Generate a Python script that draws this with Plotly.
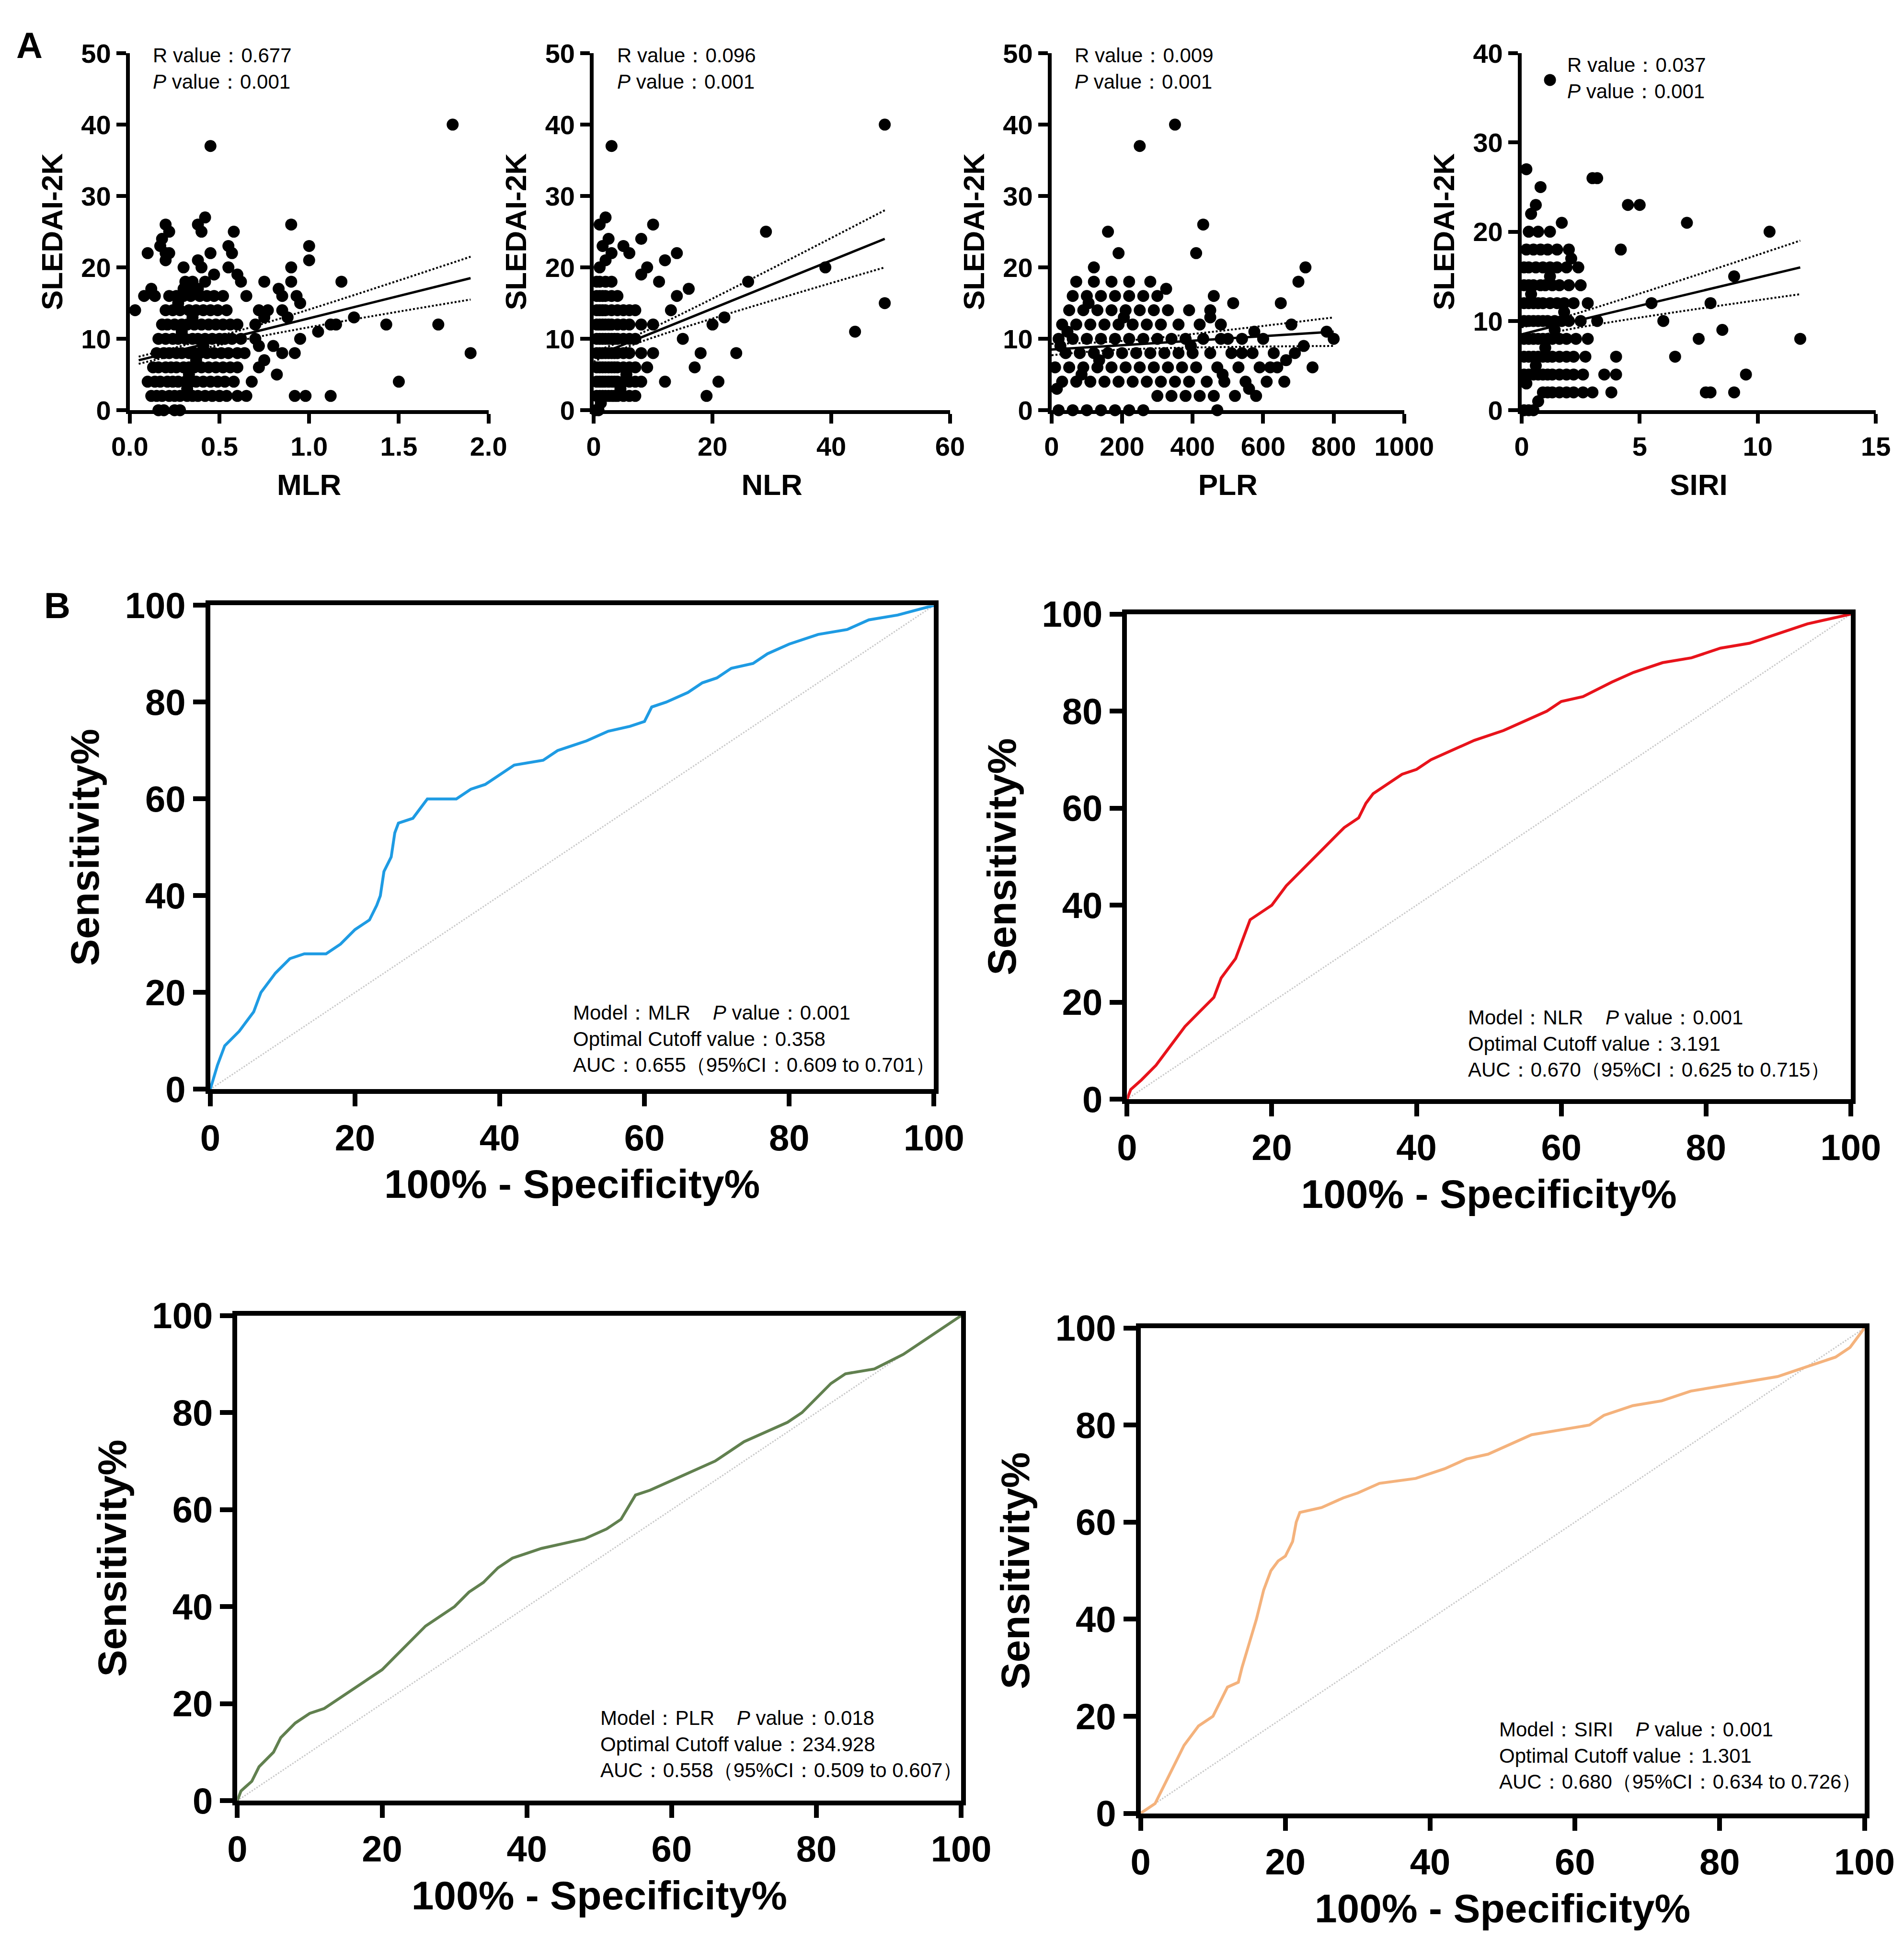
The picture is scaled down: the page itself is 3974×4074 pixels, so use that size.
import plotly.graph_objects as go

FONT = "Liberation Sans"
NARROW = "Liberation Sans Narrow, Liberation Sans"

# ---------------- scatter data (panel A) ----------------
mlr_x = [1.8, 0.45, 0.9, 1.0, 1.0, 1.18, 0.9, 0.9, 1.25, 1.43, 1.72, 1.9, 1.5, 1.12, 0.98, 0.92,
         0.95, 0.92, 1.05, 1.12, 1.15, 0.82, 0.85, 0.8, 0.75, 0.72, 0.75, 0.77, 0.83, 0.85, 0.85,
         0.88, 0.93, 0.95, 0.58, 0.42, 0.38, 0.40, 0.45, 0.2, 0.22, 0.18, 0.17, 0.2, 0.22, 0.2,
         0.1, 0.03, 0.08, 0.12, 0.14, 0.3, 0.38, 0.4, 0.55, 0.57, 0.55, 0.6, 0.47, 0.62, 0.65,
         0.7, 0.7, 0.72, 0.75, 0.72, 0.68, 0.65, 0.6, 0.5,
         0.12, 0.15, 0.18, 0.22, 0.25, 0.28, 0.32, 0.35, 0.38, 0.42, 0.46, 0.5, 0.54,
         0.1, 0.14, 0.17, 0.21, 0.24, 0.27, 0.31, 0.34, 0.37, 0.41, 0.45, 0.49, 0.53, 0.58,
         0.13, 0.16, 0.2, 0.23, 0.26, 0.3, 0.33, 0.36, 0.4, 0.44, 0.48, 0.52, 0.56, 0.6,
         0.15, 0.19, 0.22, 0.26, 0.29, 0.33, 0.36, 0.39, 0.43, 0.47, 0.51, 0.55, 0.6, 0.64,
         0.16, 0.2, 0.24, 0.27, 0.31, 0.35, 0.38, 0.42, 0.46, 0.5, 0.53, 0.57, 0.62,
         0.18, 0.21, 0.25, 0.29, 0.32, 0.36, 0.4, 0.44, 0.48, 0.52, 0.56, 0.6,
         0.2, 0.24, 0.28, 0.33, 0.37, 0.41, 0.45, 0.49, 0.54,
         0.22, 0.26, 0.3, 0.34, 0.39, 0.43, 0.47, 0.52, 0.16, 0.19, 0.25, 0.28, 0.31, 0.35,
         0.3, 0.34, 0.38, 0.42, 0.33, 0.37, 0.41, 0.29, 0.35, 0.27, 0.32]
mlr_y = [40, 37, 26, 23, 21, 18, 20, 18, 13, 12, 12, 8, 4, 2, 2, 2,
         10, 8, 11, 12, 12, 5, 8, 9, 18, 14, 13, 14, 17, 16, 14,
         13, 16, 15, 25, 27, 26, 25, 22, 26, 25, 24, 23, 22, 22, 21,
         22, 14, 16, 17, 16, 20, 21, 20, 23, 22, 20, 19, 19, 18, 16,
         12, 10, 9, 7, 6, 4, 2, 2, 2,
         2, 2, 2, 2, 2, 2, 2, 2, 2, 2, 2, 2, 2,
         4, 4, 4, 4, 4, 4, 4, 4, 4, 4, 4, 4, 4, 4,
         6, 6, 6, 6, 6, 6, 6, 6, 6, 6, 6, 6, 6, 6,
         8, 8, 8, 8, 8, 8, 8, 8, 8, 8, 8, 8, 8, 8,
         10, 10, 10, 10, 10, 10, 10, 10, 10, 10, 10, 10, 10,
         12, 12, 12, 12, 12, 12, 12, 12, 12, 12, 12, 12,
         14, 14, 14, 14, 14, 14, 14, 14, 14,
         16, 16, 16, 16, 16, 16, 16, 16, 0, 0, 0, 0, 18, 18,
         17, 17, 17, 18, 5, 7, 9, 11, 13, 15, 3]

nlr_x = [49, 3, 49, 44, 39, 29, 26, 22, 20, 19, 24, 10, 14, 16, 12, 8, 6, 5, 2, 1,
         18, 15, 13, 11, 9, 17, 21, 12, 10, 14, 7, 8,
         0.5, 1, 1.5, 2, 2.5, 3, 3.5, 4, 5, 6, 7,
         0.5, 1, 1.5, 2, 2.5, 3, 3.5, 4, 5, 6, 7, 8,
         0.5, 1, 1.5, 2, 2.5, 3, 3.5, 4, 5, 6, 7, 9,
         0.5, 1, 1.5, 2, 2.5, 3, 3.5, 4, 5, 6, 8, 10,
         0.5, 1, 1.5, 2, 2.5, 3, 3.5, 4, 5, 6, 7,
         0.5, 1, 1.5, 2, 2.5, 3, 4, 5, 6, 8,
         0.5, 1, 1.5, 2, 3, 4, 5, 6,
         0.5, 1, 1.5, 2, 3, 4, 0.5, 1, 2, 3,
         1, 2, 3, 1.5, 2.5, 0.3, 0.8, 1.2, 4.5, 5.5]
nlr_y = [40, 37, 15, 11, 20, 25, 18, 13, 12, 2, 8, 26, 22, 17, 21, 24, 22, 23, 27, 26,
         8, 10, 14, 18, 20, 6, 4, 4, 12, 16, 14, 19,
         2, 2, 2, 2, 2, 2, 2, 2, 2, 2, 2,
         4, 4, 4, 4, 4, 4, 4, 4, 4, 4, 4, 4,
         6, 6, 6, 6, 6, 6, 6, 6, 6, 6, 6, 6,
         8, 8, 8, 8, 8, 8, 8, 8, 8, 8, 8, 8,
         10, 10, 10, 10, 10, 10, 10, 10, 10, 10, 10,
         12, 12, 12, 12, 12, 12, 12, 12, 12, 12,
         14, 14, 14, 14, 14, 14, 14, 14,
         16, 16, 16, 16, 16, 16, 18, 18, 18, 18,
         20, 21, 22, 23, 24, 0, 0, 1, 3, 5]

plr_x = [350, 250, 800, 780, 720, 700, 680, 650, 620, 600, 560, 540, 500, 470, 450, 430, 410,
         20, 60, 100, 140, 180, 220, 260, 300, 340, 380, 420, 460, 520, 580,
         30, 70, 110, 150, 190, 230, 270, 310, 350, 390, 440, 490, 550, 610, 660,
         10, 50, 90, 130, 170, 210, 250, 290, 330, 370, 410, 470, 530, 590, 640, 740,
         40, 80, 120, 160, 200, 240, 280, 320, 360, 400, 450, 510, 570, 630, 690,
         20, 60, 100, 140, 180, 220, 260, 300, 340, 380, 430, 480, 540,
         30, 70, 110, 150, 190, 230, 270, 310, 360, 420, 480,
         50, 90, 130, 170, 210, 250, 290, 330, 390, 450,
         60, 100, 140, 180, 220, 260, 300, 70, 120, 170, 220, 280, 120, 190, 160, 460,
         15, 25, 45, 85, 105, 135, 205, 325, 395, 485, 515, 575, 665, 715]
plr_y = [40, 37, 10, 11, 20, 18, 12, 15, 6, 10, 3, 8, 10, 0, 13, 26, 22,
         0, 0, 0, 0, 0, 0, 0, 2, 2, 2, 2, 2, 2, 2,
         4, 4, 4, 4, 4, 4, 4, 4, 4, 4, 4, 4, 4, 4, 4,
         6, 6, 6, 6, 6, 6, 6, 6, 6, 6, 6, 6, 6, 6, 6, 6,
         8, 8, 8, 8, 8, 8, 8, 8, 8, 8, 8, 8, 8, 8, 8,
         10, 10, 10, 10, 10, 10, 10, 10, 10, 10, 10, 10, 10,
         12, 12, 12, 12, 12, 12, 12, 12, 12, 12, 12,
         14, 14, 14, 14, 14, 14, 14, 14, 14, 14,
         16, 16, 16, 16, 16, 16, 16, 18, 18, 18, 18, 18, 20, 22, 25, 16,
         3, 9, 11, 5, 15, 7, 13, 17, 9, 5, 15, 11, 7, 9]

siri_x = [1.2, 11.8, 10.5, 9, 8, 9.5, 9, 8, 7.8, 7, 5, 4.5, 3, 3.2, 6.5, 6, 5.5, 7.5, 8.5, 4, 3.8, 4.2,
          0.1, 0.3, 0.5, 0.7, 0.9, 1.1, 1.3, 1.6, 1.9, 2.2, 2.6, 3.0,
          0.1, 0.3, 0.5, 0.7, 0.9, 1.1, 1.3, 1.6, 1.9, 2.2, 2.6, 3.5,
          0.1, 0.3, 0.5, 0.7, 0.9, 1.1, 1.3, 1.6, 1.9, 2.2, 2.7, 4.0,
          0.1, 0.3, 0.5, 0.7, 0.9, 1.1, 1.3, 1.6, 1.9, 2.3, 2.8,
          0.1, 0.3, 0.5, 0.7, 0.9, 1.1, 1.4, 1.7, 2.0, 2.5, 3.2,
          0.1, 0.3, 0.5, 0.7, 0.9, 1.2, 1.5, 1.8, 2.2, 2.8,
          0.1, 0.3, 0.5, 0.8, 1.0, 1.3, 1.6, 2.0, 2.5,
          0.1, 0.3, 0.6, 0.9, 1.2, 1.5, 1.9, 2.4,
          0.2, 0.5, 0.8, 1.1, 1.5, 2.0, 0.3, 0.7, 1.2, 0.4, 0.8, 0.2,
          0.2, 0.6, 1.0, 1.4, 1.8, 0.4, 1.2, 2.1, 0.6, 1.7]
siri_y = [37, 8, 20, 15, 12, 4, 2, 2, 2, 21, 23, 23, 26, 26, 6, 10, 12, 8, 9, 4, 2, 18,
          0, 0, 0, 1, 2, 2, 2, 2, 2, 2, 2, 2,
          4, 4, 4, 4, 4, 4, 4, 4, 4, 4, 4, 4,
          6, 6, 6, 6, 6, 6, 6, 6, 6, 6, 6, 6,
          8, 8, 8, 8, 8, 8, 8, 8, 8, 8, 8,
          10, 10, 10, 10, 10, 10, 10, 10, 10, 10, 10,
          12, 12, 12, 12, 12, 12, 12, 12, 12, 12,
          14, 14, 14, 14, 14, 14, 14, 14, 14,
          16, 16, 16, 16, 16, 16, 16, 16,
          18, 18, 18, 18, 18, 18, 20, 20, 20, 22, 25, 27,
          3, 5, 7, 9, 11, 13, 15, 17, 23, 21]

# regression line and 95% band: x points, fit, upper, lower
mlr_fit_x = [0.05, 0.7, 1.9]
mlr_fit = [7.0, 11.0, 18.5]
mlr_up = [7.5, 11.8, 21.5]
mlr_lo = [6.5, 10.2, 15.5]
nlr_fit_x = [0.0, 8, 49]
nlr_fit = [7.5, 10.2, 24.0]
nlr_up = [8.2, 10.8, 28.0]
nlr_lo = [6.8, 9.6, 20.0]
plr_fit_x = [0, 200, 800]
plr_fit = [8.5, 9.1, 11.0]
plr_up = [9.3, 9.7, 13.0]
plr_lo = [7.7, 8.5, 9.0]
siri_fit_x = [0.0, 1.5, 11.8]
siri_fit = [8.5, 9.5, 16.0]
siri_up = [9.3, 10.2, 19.0]
siri_lo = [7.7, 8.8, 13.0]

scatter_names = ["MLR", "NLR", "PLR", "SIRI"]
scatter_r = ["0.677", "0.096", "0.009", "0.037"]
scatter_p = ["0.001", "0.001", "0.001", "0.001"]
scatter_xmax = [2.0, 60, 1000, 15]
scatter_dtick = [0.5, 20, 200, 5]
scatter_ymax = [50, 50, 50, 40]

# ---------------- ROC data (panel B) ----------------
mlr_fpr = [0, 1, 2, 4, 6, 7, 9, 11, 13, 16, 18, 20, 22, 23, 23.5, 24, 25, 25.5, 26, 28, 29, 30, 34, 36,
           38, 40, 42, 46, 48, 50, 52, 55, 58, 60, 61, 63, 66, 68, 70, 72, 75, 77, 80, 84, 88, 91, 95, 100]
mlr_tpr = [0, 5, 9, 12, 16, 20, 24, 27, 28, 28, 30, 33, 35, 38, 40, 45, 48, 53, 55, 56, 58, 60, 60, 62,
           63, 65, 67, 68, 70, 71, 72, 74, 75, 76, 79, 80, 82, 84, 85, 87, 88, 90, 92, 94, 95, 97, 98, 100]
nlr_fpr = [0, 0.5, 2, 4, 6, 8, 10, 12, 13, 15, 16, 17, 19, 20, 22, 24, 26, 28, 30, 32, 33, 34, 36, 38,
           40, 42, 45, 48, 52, 55, 58, 60, 63, 67, 70, 74, 78, 82, 86, 90, 94, 100]
nlr_tpr = [0, 2, 4, 7, 11, 15, 18, 21, 25, 29, 33, 37, 39, 40, 44, 47, 50, 53, 56, 58, 61, 63, 65, 67,
           68, 70, 72, 74, 76, 78, 80, 82, 83, 86, 88, 90, 91, 93, 94, 96, 98, 100]
plr_fpr = [0, 0.5, 2, 3, 5, 6, 8, 10, 12, 14, 16, 18, 20, 22, 24, 26, 28, 30, 32, 34, 36, 38, 40, 42,
           45, 48, 51, 53, 55, 57, 60, 63, 66, 68, 70, 73, 76, 78, 80, 82, 84, 88, 92, 95, 97, 100]
plr_tpr = [0, 2, 4, 7, 10, 13, 16, 18, 19, 21, 23, 25, 27, 30, 33, 36, 38, 40, 43, 45, 48, 50, 51, 52,
           53, 54, 56, 58, 63, 64, 66, 68, 70, 72, 74, 76, 78, 80, 83, 86, 88, 89, 92, 95, 97, 100]
siri_fpr = [0, 1, 2, 3, 4, 5, 6, 7, 8, 10, 11, 12, 13.5, 14, 15, 16, 17, 18, 19, 20, 21, 21.5, 22, 25,
            28, 30, 33, 38, 42, 45, 48, 51, 54, 58, 62, 64, 68, 72, 76, 80, 84, 88, 92, 96, 98, 100]
siri_tpr = [0, 1, 2, 5, 8, 11, 14, 16, 18, 20, 23, 26, 27, 30, 35, 40, 46, 50, 52, 53, 56, 60, 62, 63,
            65, 66, 68, 69, 71, 73, 74, 76, 78, 79, 80, 82, 84, 85, 87, 88, 89, 90, 92, 94, 96, 100]

roc_names = ["MLR", "NLR", "PLR", "SIRI"]
roc_p = ["0.001", "0.001", "0.018", "0.001"]
roc_cutoff = ["0.358", "3.191", "234.928", "1.301"]
roc_auc = ["0.655", "0.670", "0.558", "0.680"]
roc_ci = ["0.609 to 0.701", "0.625 to 0.715", "0.509 to 0.607", "0.634 to 0.726"]
roc_colors = ["#1E9BE3", "#E8131B", "#61804F", "#F4B27C"]

# ---------------- layout positions ----------------
sc_x = [(0.0578, 0.2512), (0.3079, 0.5000), (0.5547, 0.7448), (0.8081, 0.999)]
sc_y = (0.7979, 0.9847)
sc_txt = [(0.012, 0.99), (0.012, 0.99), (0.012, 0.99), (0.024, 0.985)]
roc_dom = [((0.1012, 0.4913), (0.4426, 0.6958)),
           ((0.5954, 0.9855), (0.4374, 0.6912)),
           ((0.1158, 0.5060), (0.0704, 0.3242)),
           ((0.6027, 0.9929), (0.0638, 0.3177))]
roc_txt = [(50, 2.5), (47, 3.6), (50, 3.8), (49.4, 4.0)]

fig = go.Figure()
layout = {}
annotations = []

sc_data = [(mlr_x, mlr_y, mlr_fit_x, mlr_fit, mlr_up, mlr_lo),
           (nlr_x, nlr_y, nlr_fit_x, nlr_fit, nlr_up, nlr_lo),
           (plr_x, plr_y, plr_fit_x, plr_fit, plr_up, plr_lo),
           (siri_x, siri_y, siri_fit_x, siri_fit, siri_up, siri_lo)]

for i, (xs, ys, fx, fy, fu, fl) in enumerate(sc_data):
    n = i + 1
    xa, ya = f"x{n}", f"y{n}"
    fig.add_trace(go.Scatter(x=xs, y=ys, xaxis=xa, yaxis=ya, mode="markers", cliponaxis=False,
                             marker=dict(size=25, color="black"), showlegend=False))
    fig.add_trace(go.Scatter(x=fx, y=fy, xaxis=xa, yaxis=ya, mode="lines", line_shape="spline",
                             line=dict(color="black", width=5), showlegend=False))
    for band in (fu, fl):
        fig.add_trace(go.Scatter(x=fx, y=band, xaxis=xa, yaxis=ya, mode="lines", line_shape="spline",
                                 line=dict(color="black", width=4, dash="dot"), showlegend=False))
    common = dict(showline=True, linecolor="black", linewidth=8, ticks="outside", ticklen=20,
                  tickwidth=8, tickcolor="black", showgrid=False, zeroline=False,
                  tickfont=dict(family=FONT, size=56, color="black", weight="bold"))
    layout[f"xaxis{n}"] = dict(domain=sc_x[i], anchor=ya, range=[0, scatter_xmax[i]],
                               dtick=scatter_dtick[i], tick0=0,
                               tickformat=".1f" if i == 0 else "d",
                               title=dict(text=f"<b>{scatter_names[i]}</b>", standoff=30,
                                          font=dict(family=FONT, size=62, color="black")),
                               **common)
    layout[f"yaxis{n}"] = dict(domain=sc_y, anchor=xa, range=[0, scatter_ymax[i]], dtick=10,
                               title=dict(text="<b>SLEDAI-2K</b>", standoff=22,
                                          font=dict(family=FONT, size=62, color="black")),
                               **common)
    ox, oy = sc_txt[i]
    annotations.append(dict(xref="paper", yref="paper", x=sc_x[i][0] + ox, y=oy,
                            xanchor="left", yanchor="top", align="left", showarrow=False,
                            text=f"R value：{scatter_r[i]}<br><i>P</i> value：{scatter_p[i]}",
                            font=dict(family=FONT, size=42, color="black")))

roc_data = [(mlr_fpr, mlr_tpr), (nlr_fpr, nlr_tpr), (plr_fpr, plr_tpr), (siri_fpr, siri_tpr)]
for i, (fx, fy) in enumerate(roc_data):
    n = i + 5
    xa, ya = f"x{n}", f"y{n}"
    fig.add_trace(go.Scatter(x=[0, 100], y=[0, 100], xaxis=xa, yaxis=ya, mode="lines",
                             line=dict(color="#C8C8C8", width=3, dash="dot"), showlegend=False))
    fig.add_trace(go.Scatter(x=fx, y=fy, xaxis=xa, yaxis=ya, mode="lines",
                             line=dict(color=roc_colors[i], width=6), showlegend=False))
    common = dict(showline=True, mirror=True, linecolor="black", linewidth=10, ticks="outside",
                  ticklen=26, tickwidth=10, tickcolor="black", showgrid=False, zeroline=False,
                  range=[0, 100], dtick=20,
                  tickfont=dict(family=FONT, size=76, color="black", weight="bold"))
    (dx, dy) = roc_dom[i]
    layout[f"xaxis{n}"] = dict(domain=dx, anchor=ya,
                               title=dict(text="<b>100% - Specificity%</b>", standoff=30,
                                          font=dict(family=FONT, size=84, color="black")),
                               **common)
    layout[f"yaxis{n}"] = dict(domain=dy, anchor=xa,
                               title=dict(text="<b>Sensitivity%</b>", standoff=30,
                                          font=dict(family=FONT, size=84, color="black")),
                               **common)
    tx, ty = roc_txt[i]
    annotations.append(dict(xref=xa, yref=ya, x=tx, y=ty, xanchor="left", yanchor="bottom",
                            align="left", showarrow=False,
                            text=(f"Model：{roc_names[i]}    <i>P</i> value：{roc_p[i]}<br>"
                                  f"Optimal Cutoff value：{roc_cutoff[i]}<br>"
                                  f"AUC：{roc_auc[i]}（95%CI：{roc_ci[i]}）"),
                            font=dict(family=NARROW, size=42, color="black")))

annotations.append(dict(xref="paper", yref="paper", x=-0.004, y=1.0, xanchor="left", yanchor="top",
                        showarrow=False, text="<b>A</b>", font=dict(family=FONT, size=76, color="black")))
annotations.append(dict(xref="paper", yref="paper", x=0.011, y=0.707, xanchor="left", yanchor="top",
                        showarrow=False, text="<b>B</b>", font=dict(family=FONT, size=76, color="black")))

fig.update_layout(width=3974, height=4074, margin=dict(l=0, r=0, t=0, b=0),
                  plot_bgcolor="white", paper_bgcolor="white", annotations=annotations, **layout)

fig.write_html("out.html")
